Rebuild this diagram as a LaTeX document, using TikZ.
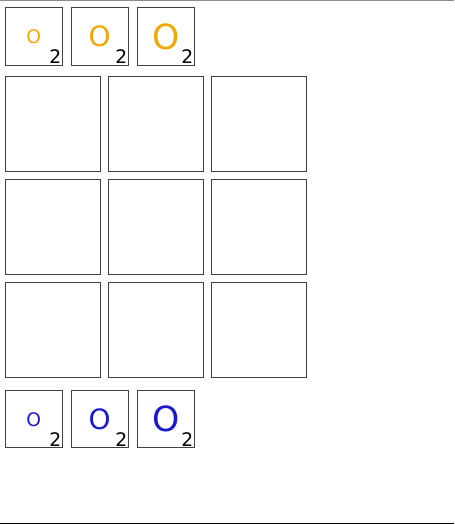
\documentclass[tikz,border=0pt]{standalone}
\usepackage{fontspec}
\setmainfont{DejaVu Sans}
\usepackage{tikz}
\usetikzlibrary{positioning}
\definecolor{goldpiece}{RGB}{240,168,0}
\definecolor{bluepiece}{RGB}{26,26,204}
\tikzstyle{cell} = [draw=black!75, rectangle, line width=0.75pt,
minimum size=71.25pt, inner sep=0pt]
\tikzstyle{tray} = [draw=black!75, rectangle, line width=0.75pt,
minimum size=43pt, inner sep=0pt]
\tikzstyle{count} = [anchor=south east, inner sep=1pt, font=\fontsize{14}{16}\selectfont]
\tikzstyle{small} = [font=\fontsize{14}{16}\selectfont]
\tikzstyle{medium} = [font=\fontsize{21}{24}\selectfont]
\tikzstyle{large} = [font=\fontsize{26}{30}\selectfont]

\begin{document}
\begin{tikzpicture}[node distance=49.5pt]

\useasboundingbox (0,0) rectangle (340.5pt,-393pt);
\draw [black!45, line width=0.75pt] (0,-0.4pt) -- (340.5pt,-0.4pt);
\draw [black, line width=0.75pt] (0,-392.6pt) -- (340.5pt,-392.6pt);

% pieces of the first player
\node [tray] (g1) at (25.3pt,-27.3pt) {};
\node [tray, right of=g1] (g2) {};
\node [tray, right of=g2] (g3) {};
\node [small, text=goldpiece] at (g1) {O};
\node [medium, text=goldpiece] at (g2) {O};
\node [large, text=goldpiece] at (g3) {O};
\node [count] at (g1.south east) {2};
\node [count] at (g2.south east) {2};
\node [count] at (g3.south east) {2};

% board
\node [cell] (c11) at (39.4pt,-93.3pt) {};
\node [cell, right of=c11, node distance=77.25pt] (c12) {};
\node [cell, right of=c12, node distance=77.25pt] (c13) {};
\node [cell, below of=c11, node distance=77.25pt] (c21) {};
\node [cell, right of=c21, node distance=77.25pt] (c22) {};
\node [cell, right of=c22, node distance=77.25pt] (c23) {};
\node [cell, below of=c21, node distance=77.25pt] (c31) {};
\node [cell, right of=c31, node distance=77.25pt] (c32) {};
\node [cell, right of=c32, node distance=77.25pt] (c33) {};

% pieces of the second player
\node [tray] (b1) at (25.3pt,-314.4pt) {};
\node [tray, right of=b1] (b2) {};
\node [tray, right of=b2] (b3) {};
\node [small, text=bluepiece] at (b1) {O};
\node [medium, text=bluepiece] at (b2) {O};
\node [large, text=bluepiece] at (b3) {O};
\node [count] at (b1.south east) {2};
\node [count] at (b2.south east) {2};
\node [count] at (b3.south east) {2};

\end{tikzpicture}
\end{document}
